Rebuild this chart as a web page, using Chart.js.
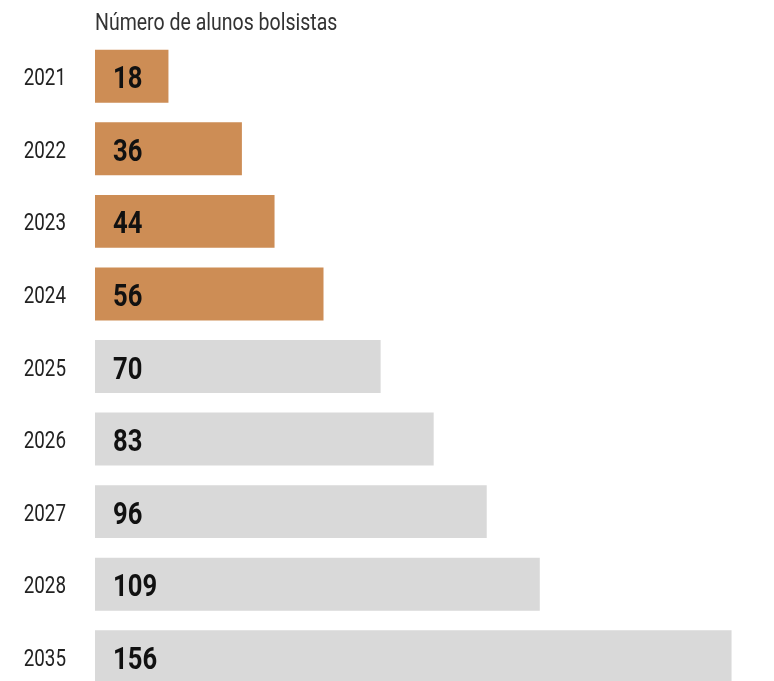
<!DOCTYPE html>
<html>
<head>
<meta charset="utf-8">
<script src="https://cdn.jsdelivr.net/npm/chart.js@4/dist/chart.umd.min.js"></script>
<style>
  html, body { margin: 0; padding: 0; background: #fff; overflow: hidden; }
  #wrap { width: 774px; height: 700px; }
</style>
</head>
<body>
<div id="wrap"><canvas id="chart" width="774" height="700"></canvas></div>
<script>
const years = ["2021", "2022", "2023", "2024", "2025", "2026", "2027", "2028", "2035"];
const alunos = [18, 36, 44, 56, 70, 83, 96, 109, 156];
const realizado = [true, true, true, true, false, false, false, false, false];
const titleText = "Número de alunos bolsistas";

// fonte condensada simulada: Roboto comprimido na horizontal
function drawText(ctx, text, x, y, align, squeeze) {
  ctx.save();
  ctx.translate(x, y);
  ctx.scale(squeeze, 1);
  ctx.textAlign = align;
  ctx.textBaseline = "alphabetic";
  ctx.fillText(text, 0, 0);
  ctx.restore();
}

const labelsPlugin = {
  id: "labels",
  afterDatasetsDraw(chart) {
    const ctx = chart.ctx;
    const area = chart.chartArea;
    const yScale = chart.scales.y;
    ctx.save();
    ctx.fillStyle = "#333";
    ctx.font = "23.5px Roboto, sans-serif";
    drawText(ctx, titleText, area.left, 29.5, "left", 0.83);

    ctx.fillStyle = "#222";
    ctx.font = "23.5px Roboto, sans-serif";
    years.forEach((yr, i) => {
      drawText(ctx, yr, area.left - 29, yScale.getPixelForValue(i) + 9, "right", 0.8);
    });

    ctx.fillStyle = "#111";
    ctx.font = "bold 32px Roboto, sans-serif";
    chart.getDatasetMeta(0).data.forEach((bar, i) => {
      drawText(ctx, String(alunos[i]), bar.base + 18, bar.y + 12, "left", 0.8);
    });
    ctx.restore();
  }
};

new Chart(document.getElementById("chart").getContext("2d"), {
  type: "bar",
  data: {
    labels: years,
    datasets: [{
      data: alunos,
      backgroundColor: realizado.map(r => r ? "#cd8d55" : "#d9d9d9"),
      borderWidth: 0,
      categoryPercentage: 1,
      barPercentage: 0.73
    }]
  },
  options: {
    indexAxis: "y",
    responsive: false,
    animation: false,
    layout: { padding: { top: 40, bottom: 7, left: 95, right: 0 } },
    plugins: {
      legend: { display: false },
      tooltip: { enabled: false }
    },
    scales: {
      x: { display: false, min: 0, max: 166.4 },
      y: { display: false }
    }
  },
  plugins: [labelsPlugin]
});
</script>
</body>
</html>
